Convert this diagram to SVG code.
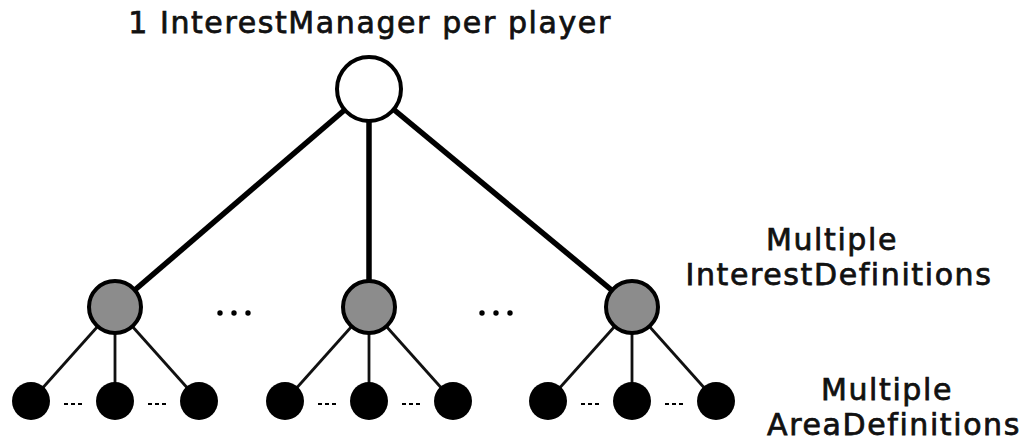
<svg xmlns="http://www.w3.org/2000/svg" width="1026" height="448" viewBox="0 0 1026 448">
  <style>
    .label { font-family: "DejaVu Sans", "Liberation Sans", sans-serif; font-size: 30px; letter-spacing: 1.6px; fill: #111; stroke: #111; stroke-width: 0.75; text-anchor: middle; }
    .trunk { stroke: #000; stroke-width: 5.5; fill: none; }
    .branch { stroke: #111; stroke-width: 2.8; fill: none; }
    .manager { fill: #fff; stroke: #000; stroke-width: 4; }
    .definition { fill: #8c8c8c; stroke: #000; stroke-width: 4; }
    .area { fill: #000; }
    .ellipsis { fill: #000; }
  </style>
  <rect width="1026" height="448" fill="#fff"/>

  <!-- connectors -->
  <g id="connectors">
    <line class="trunk" x1="369" y1="89" x2="115" y2="307"/>
    <line class="trunk" x1="369" y1="89" x2="369" y2="307"/>
    <line class="trunk" x1="369" y1="89" x2="632" y2="307"/>

    <line class="branch" x1="115" y1="307" x2="31" y2="401"/>
    <line class="branch" x1="115" y1="307" x2="115" y2="401"/>
    <line class="branch" x1="115" y1="307" x2="199" y2="401"/>

    <line class="branch" x1="369" y1="307" x2="285" y2="401"/>
    <line class="branch" x1="369" y1="307" x2="369" y2="401"/>
    <line class="branch" x1="369" y1="307" x2="453" y2="401"/>

    <line class="branch" x1="632" y1="307" x2="548" y2="401"/>
    <line class="branch" x1="632" y1="307" x2="632" y2="401"/>
    <line class="branch" x1="632" y1="307" x2="716" y2="401"/>
  </g>

  <!-- root -->
  <g id="interest-manager">
    <circle class="manager" cx="369" cy="89" r="32"/>
    <text class="label" x="370" y="33">1 InterestManager per player</text>
  </g>

  <!-- interest definitions -->
  <g id="definition-1"><circle class="definition" cx="115" cy="307" r="26"/></g>
  <g id="definition-2"><circle class="definition" cx="369" cy="307" r="26"/></g>
  <g id="definition-3"><circle class="definition" cx="632" cy="307" r="26"/></g>

  <g id="definition-gaps">
    <circle class="ellipsis" cx="220" cy="313" r="2.7"/>
    <circle class="ellipsis" cx="234" cy="313" r="2.7"/>
    <circle class="ellipsis" cx="248" cy="313" r="2.7"/>
    <circle class="ellipsis" cx="482" cy="313" r="2.7"/>
    <circle class="ellipsis" cx="496" cy="313" r="2.7"/>
    <circle class="ellipsis" cx="510" cy="313" r="2.7"/>
  </g>

  <!-- area definitions -->
  <g id="areas-1">
    <circle class="area" cx="31" cy="401" r="19"/>
    <circle class="area" cx="115" cy="401" r="19"/>
    <circle class="area" cx="199" cy="401" r="19"/>
  </g>
  <g id="areas-2">
    <circle class="area" cx="285" cy="401" r="19"/>
    <circle class="area" cx="369" cy="401" r="19"/>
    <circle class="area" cx="453" cy="401" r="19"/>
  </g>
  <g id="areas-3">
    <circle class="area" cx="548" cy="401" r="19"/>
    <circle class="area" cx="632" cy="401" r="19"/>
    <circle class="area" cx="716" cy="401" r="19"/>
  </g>

  <g id="area-gaps" fill="#000">
    <rect x="64" y="403" width="4" height="2"/><rect x="71" y="403" width="4" height="2"/><rect x="78" y="403" width="4" height="2"/>
    <rect x="148" y="403" width="4" height="2"/><rect x="155" y="403" width="4" height="2"/><rect x="162" y="403" width="4" height="2"/>
    <rect x="318" y="403" width="4" height="2"/><rect x="325" y="403" width="4" height="2"/><rect x="332" y="403" width="4" height="2"/>
    <rect x="402" y="403" width="4" height="2"/><rect x="409" y="403" width="4" height="2"/><rect x="416" y="403" width="4" height="2"/>
    <rect x="581" y="403" width="4" height="2"/><rect x="588" y="403" width="4" height="2"/><rect x="595" y="403" width="4" height="2"/>
    <rect x="665" y="403" width="4" height="2"/><rect x="672" y="403" width="4" height="2"/><rect x="679" y="403" width="4" height="2"/>
  </g>

  <g id="legend-definitions">
    <text class="label" x="832" y="250">Multiple</text>
    <text class="label" x="839" y="285">InterestDefinitions</text>
  </g>
  <g id="legend-areas">
    <text class="label" x="887" y="400">Multiple</text>
    <text class="label" x="894" y="435">AreaDefinitions</text>
  </g>
</svg>
